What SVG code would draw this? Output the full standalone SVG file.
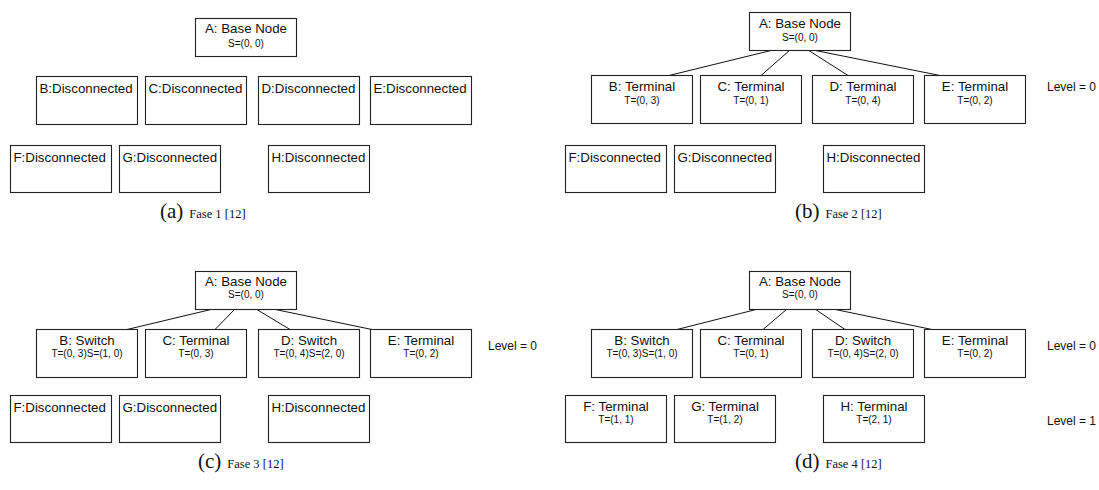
<svg xmlns="http://www.w3.org/2000/svg" width="1099" height="490" viewBox="0 0 1099 490">
  <style>
    .box { fill: #ffffff; stroke: #222222; stroke-width: 1.1; }
    .edge { stroke: #111111; stroke-width: 1; fill: none; }
    .t { font-family: "Liberation Sans", Arial, sans-serif; font-size: 13.3px; fill: #111111; }
    .s { font-family: "Liberation Sans", Arial, sans-serif; font-size: 10px; fill: #111111; }
    .lvl { font-family: "Liberation Sans", Arial, sans-serif; font-size: 12px; fill: #111111; }
    .mid { text-anchor: middle; }
    .capL { font-family: "Liberation Serif", "Times New Roman", serif; font-size: 21px; fill: #111111; }
    .capS { font-family: "Liberation Serif", "Times New Roman", serif; font-size: 12.5px; fill: #111111; }
  </style>

  <rect width="1099" height="490" fill="#ffffff"/>

  <!-- ===== Phase 1 ===== -->
  <g id="p1-A"><rect class="box" x="195.5" y="18.5" width="101" height="38"/>
    <text class="t mid" x="246" y="33">A: Base Node</text>
    <text class="s mid" x="246" y="47">S=(0, 0)</text></g>
  <g id="p1-B"><rect class="box" x="36.5" y="76.5" width="101" height="48"/>
    <text class="t" x="39.5" y="93">B:Disconnected</text></g>
  <g id="p1-C"><rect class="box" x="145.5" y="76.5" width="101" height="48"/>
    <text class="t" x="148.5" y="93">C:Disconnected</text></g>
  <g id="p1-D"><rect class="box" x="258.5" y="76.5" width="101" height="48"/>
    <text class="t" x="261.5" y="93">D:Disconnected</text></g>
  <g id="p1-E"><rect class="box" x="370.5" y="76.5" width="101" height="48"/>
    <text class="t" x="373.5" y="93">E:Disconnected</text></g>
  <g id="p1-F"><rect class="box" x="10.5" y="145.5" width="101" height="47"/>
    <text class="t" x="13.5" y="161.5">F:Disconnected</text></g>
  <g id="p1-G"><rect class="box" x="119.5" y="145.5" width="101" height="47"/>
    <text class="t" x="122.5" y="161.5">G:Disconnected</text></g>
  <g id="p1-H"><rect class="box" x="268.5" y="145.5" width="101" height="47"/>
    <text class="t" x="271.5" y="161.5">H:Disconnected</text></g>
  <g id="p1-caption"><text x="160" y="218"><tspan class="capL">(a)</tspan><tspan class="capS" dx="6">Fase 1 [12]</tspan></text></g>

  <!-- ===== Phase 2 ===== -->
  <g id="p2-edges">
    <line class="edge" x1="773" y1="50" x2="669" y2="75.5"/>
    <line class="edge" x1="790" y1="50" x2="761" y2="75.5"/>
    <line class="edge" x1="808" y1="50" x2="848" y2="75.5"/>
    <line class="edge" x1="813" y1="50" x2="940" y2="75.5"/>
  </g>
  <g id="p2-A"><rect class="box" x="749.5" y="12.5" width="101" height="38"/>
    <text class="t mid" x="800" y="28">A: Base Node</text>
    <text class="s mid" x="800" y="40.5">S=(0, 0)</text></g>
  <g id="p2-B"><rect class="box" x="591.5" y="75.5" width="101" height="48"/>
    <text class="t mid" x="642" y="91">B: Terminal</text>
    <text class="s mid" x="642" y="103.5">T=(0, 3)</text></g>
  <g id="p2-C"><rect class="box" x="700.5" y="75.5" width="101" height="48"/>
    <text class="t mid" x="751" y="91">C: Terminal</text>
    <text class="s mid" x="751" y="103.5">T=(0, 1)</text></g>
  <g id="p2-D"><rect class="box" x="812.5" y="75.5" width="101" height="48"/>
    <text class="t mid" x="863" y="91">D: Terminal</text>
    <text class="s mid" x="863" y="103.5">T=(0, 4)</text></g>
  <g id="p2-E"><rect class="box" x="924.5" y="75.5" width="101" height="48"/>
    <text class="t mid" x="975" y="91">E: Terminal</text>
    <text class="s mid" x="975" y="103.5">T=(0, 2)</text></g>
  <text class="lvl" x="1047" y="90.5">Level = 0</text>
  <g id="p2-F"><rect class="box" x="565.5" y="145.5" width="101" height="47"/>
    <text class="t" x="568.5" y="161.5">F:Disconnected</text></g>
  <g id="p2-G"><rect class="box" x="674.5" y="145.5" width="101" height="47"/>
    <text class="t" x="677.5" y="161.5">G:Disconnected</text></g>
  <g id="p2-H"><rect class="box" x="823.5" y="145.5" width="101" height="47"/>
    <text class="t" x="826.5" y="161.5">H:Disconnected</text></g>
  <g id="p2-caption"><text x="795" y="218"><tspan class="capL">(b)</tspan><tspan class="capS" dx="6">Fase 2 [12]</tspan></text></g>

  <!-- ===== Phase 3 ===== -->
  <g id="p3-edges">
    <line class="edge" x1="213" y1="309" x2="127" y2="329.5"/>
    <line class="edge" x1="235" y1="309" x2="215" y2="329.5"/>
    <line class="edge" x1="256" y1="309" x2="290" y2="329.5"/>
    <line class="edge" x1="273" y1="309" x2="372" y2="329.5"/>
  </g>
  <g id="p3-A"><rect class="box" x="195.5" y="271.5" width="101" height="38"/>
    <text class="t mid" x="246" y="286">A: Base Node</text>
    <text class="s mid" x="246" y="298">S=(0, 0)</text></g>
  <g id="p3-B"><rect class="box" x="36.5" y="329.5" width="101" height="48"/>
    <text class="t mid" x="87" y="345">B: Switch</text>
    <text class="s mid" x="87" y="357">T=(0, 3)S=(1, 0)</text></g>
  <g id="p3-C"><rect class="box" x="145.5" y="329.5" width="101" height="48"/>
    <text class="t mid" x="196" y="345">C: Terminal</text>
    <text class="s mid" x="196" y="357">T=(0, 3)</text></g>
  <g id="p3-D"><rect class="box" x="258.5" y="329.5" width="101" height="48"/>
    <text class="t mid" x="309" y="345">D: Switch</text>
    <text class="s mid" x="309" y="357">T=(0, 4)S=(2, 0)</text></g>
  <g id="p3-E"><rect class="box" x="370.5" y="329.5" width="101" height="48"/>
    <text class="t mid" x="421" y="345">E: Terminal</text>
    <text class="s mid" x="421" y="357">T=(0, 2)</text></g>
  <text class="lvl" x="488" y="350">Level = 0</text>
  <g id="p3-F"><rect class="box" x="10.5" y="395.5" width="101" height="47"/>
    <text class="t" x="13.5" y="411.5">F:Disconnected</text></g>
  <g id="p3-G"><rect class="box" x="119.5" y="395.5" width="101" height="47"/>
    <text class="t" x="122.5" y="411.5">G:Disconnected</text></g>
  <g id="p3-H"><rect class="box" x="268.5" y="395.5" width="101" height="47"/>
    <text class="t" x="271.5" y="411.5">H:Disconnected</text></g>
  <g id="p3-caption"><text x="198" y="468"><tspan class="capL">(c)</tspan><tspan class="capS" dx="6">Fase 3 [12]</tspan></text></g>

  <!-- ===== Phase 4 ===== -->
  <g id="p4-edges">
    <line class="edge" x1="758" y1="309" x2="677" y2="329.5"/>
    <line class="edge" x1="787" y1="309" x2="763" y2="329.5"/>
    <line class="edge" x1="815" y1="309" x2="845" y2="329.5"/>
    <line class="edge" x1="833" y1="309" x2="932" y2="329.5"/>
  </g>
  <g id="p4-A"><rect class="box" x="749.5" y="271.5" width="101" height="38"/>
    <text class="t mid" x="800" y="286">A: Base Node</text>
    <text class="s mid" x="800" y="298">S=(0, 0)</text></g>
  <g id="p4-B"><rect class="box" x="591.5" y="329.5" width="101" height="48"/>
    <text class="t mid" x="642" y="345">B: Switch</text>
    <text class="s mid" x="642" y="357">T=(0, 3)S=(1, 0)</text></g>
  <g id="p4-C"><rect class="box" x="700.5" y="329.5" width="101" height="48"/>
    <text class="t mid" x="751" y="345">C: Terminal</text>
    <text class="s mid" x="751" y="357">T=(0, 1)</text></g>
  <g id="p4-D"><rect class="box" x="812.5" y="329.5" width="101" height="48"/>
    <text class="t mid" x="863" y="345">D: Switch</text>
    <text class="s mid" x="863" y="357">T=(0, 4)S=(2, 0)</text></g>
  <g id="p4-E"><rect class="box" x="924.5" y="329.5" width="101" height="48"/>
    <text class="t mid" x="975" y="345">E: Terminal</text>
    <text class="s mid" x="975" y="357">T=(0, 2)</text></g>
  <text class="lvl" x="1047" y="350">Level = 0</text>
  <g id="p4-F"><rect class="box" x="565.5" y="395.5" width="101" height="47"/>
    <text class="t mid" x="616" y="411">F: Terminal</text>
    <text class="s mid" x="616" y="423">T=(1, 1)</text></g>
  <g id="p4-G"><rect class="box" x="674.5" y="395.5" width="101" height="47"/>
    <text class="t mid" x="725" y="411">G: Terminal</text>
    <text class="s mid" x="725" y="423">T=(1, 2)</text></g>
  <g id="p4-H"><rect class="box" x="823.5" y="395.5" width="101" height="47"/>
    <text class="t mid" x="874" y="411">H: Terminal</text>
    <text class="s mid" x="874" y="423">T=(2, 1)</text></g>
  <text class="lvl" x="1047" y="425">Level = 1</text>
  <g id="p4-caption"><text x="795" y="468"><tspan class="capL">(d)</tspan><tspan class="capS" dx="6">Fase 4 [12]</tspan></text></g>
</svg>
